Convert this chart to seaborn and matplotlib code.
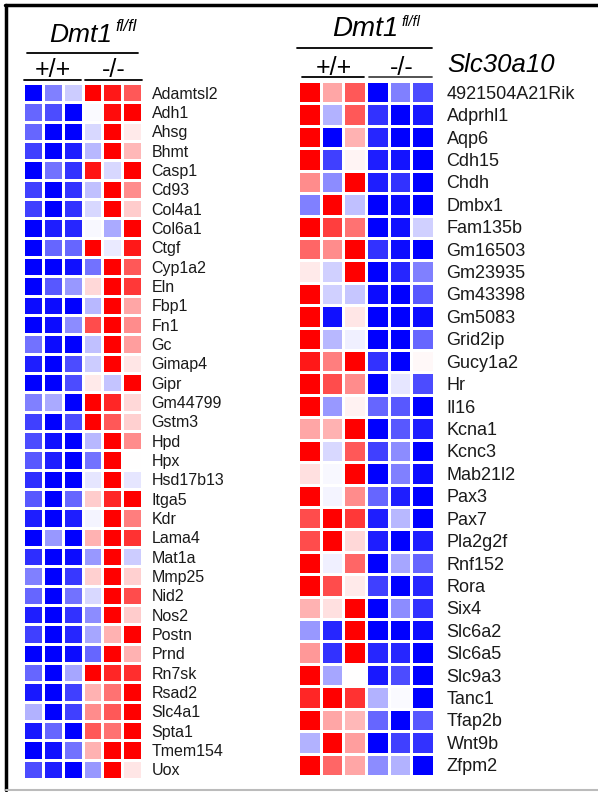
import numpy as np
import pandas as pd
import matplotlib
matplotlib.use('Agg')
import matplotlib.pyplot as plt
import seaborn as sns

# genotype columns (3 replicates each)
samples = ['+/+ 1', '+/+ 2', '+/+ 3', '-/- 1', '-/- 2', '-/- 3']

left_genes = ['Adamtsl2', 'Adh1', 'Ahsg', 'Bhmt', 'Casp1', 'Cd93', 'Col4a1', 'Col6a1',
              'Ctgf', 'Cyp1a2', 'Eln', 'Fbp1', 'Fn1', 'Gc', 'Gimap4', 'Gipr', 'Gm44799',
              'Gstm3', 'Hpd', 'Hpx', 'Hsd17b13', 'Itga5', 'Kdr', 'Lama4', 'Mat1a', 'Mmp25',
              'Nid2', 'Nos2', 'Postn', 'Prnd', 'Rn7sk', 'Rsad2', 'Slc4a1', 'Spta1',
              'Tmem154', 'Uox']
left_values = [
    [-1.00, -0.50, -0.20, 1.00, 0.90, 0.65],
    [-0.60, -0.70, -1.00, -0.02, 0.95, 1.00],
    [-0.60, -1.00, -1.00, -0.15, 1.00, 0.08],
    [-0.75, -1.00, -0.88, -0.28, 1.00, 0.28],
    [-1.00, -0.55, -0.80, 0.92, -0.15, 1.00],
    [-0.75, -1.00, -0.80, -0.25, 1.00, 0.45],
    [-0.75, -1.00, -0.80, -0.15, 1.00, 0.20],
    [-1.00, -0.88, -0.85, -0.03, -0.33, 1.00],
    [-1.00, -0.60, -0.60, 1.00, -0.08, 0.90],
    [-1.00, -1.00, -0.93, -0.55, 1.00, 0.65],
    [-1.00, -0.65, -0.40, 0.15, 1.00, 0.78],
    [-0.95, -0.95, -1.00, -0.28, 1.00, 0.35],
    [-1.00, -0.95, -0.45, 0.70, 1.00, 0.45],
    [-0.55, -0.95, -1.00, -0.25, 1.00, 0.38],
    [-0.88, -1.00, -0.70, -0.20, 1.00, 0.10],
    [-1.00, -1.00, -0.70, 0.08, -0.23, 1.00],
    [-0.50, -0.33, -1.00, 1.00, 0.85, 0.15],
    [-0.75, -1.00, -0.70, 1.00, 0.65, 0.18],
    [-0.70, -0.93, -1.00, -0.28, 1.00, 0.45],
    [-0.65, -0.88, -1.00, -0.55, 1.00, 0.00],
    [-0.82, -1.00, -1.00, -0.10, 1.00, -0.10],
    [-0.65, -1.00, -0.60, 0.20, 0.85, 1.00],
    [-0.88, -1.00, -0.88, -0.04, 1.00, 0.50],
    [-1.00, -0.40, -1.00, 0.30, 1.00, 0.80],
    [-0.82, -1.00, -0.95, -0.40, 1.00, -0.20],
    [-0.50, -1.00, -0.78, 0.18, 1.00, 0.18],
    [-0.60, -1.00, -0.55, -0.15, 1.00, 0.70],
    [-0.88, -1.00, -0.80, -0.45, 1.00, 0.20],
    [-0.75, -1.00, -0.85, -0.35, 0.30, 1.00],
    [-1.00, -1.00, -0.95, -0.60, 1.00, 0.30],
    [-0.60, -1.00, -0.35, 1.00, 0.85, 0.82],
    [-0.90, -1.00, -0.75, 0.30, 0.55, 1.00],
    [-0.30, -1.00, -0.75, 0.45, 0.65, 1.00],
    [-0.90, -0.60, -1.00, 0.65, 0.55, 1.00],
    [-1.00, -0.93, -0.55, 0.30, 1.00, 1.00],
    [-0.70, -0.88, -1.00, -0.40, 1.00, 0.10],
]

right_genes = ['4921504A21Rik', 'Adprhl1', 'Aqp6', 'Cdh15', 'Chdh', 'Dmbx1', 'Fam135b',
               'Gm16503', 'Gm23935', 'Gm43398', 'Gm5083', 'Grid2ip', 'Gucy1a2', 'Hr',
               'Il16', 'Kcna1', 'Kcnc3', 'Mab21l2', 'Pax3', 'Pax7', 'Pla2g2f', 'Rnf152',
               'Rora', 'Six4', 'Slc6a2', 'Slc6a5', 'Slc9a3', 'Tanc1', 'Tfap2b', 'Wnt9b',
               'Zfpm2']
right_values = [
    [1.00, 0.35, 0.65, -1.00, -0.50, -0.70],
    [1.00, -0.30, 0.65, -0.80, -1.00, -0.90],
    [1.00, -1.00, 0.30, -0.85, -1.00, -1.00],
    [1.00, -0.75, 0.04, -0.88, -0.92, -1.00],
    [0.45, -0.45, 1.00, -0.88, -0.80, -1.00],
    [-0.50, 1.00, -0.25, -1.00, -0.95, -1.00],
    [1.00, 0.75, 0.55, -1.00, -0.93, -0.18],
    [0.60, 0.45, 1.00, -0.80, -0.95, -1.00],
    [0.08, -0.18, 1.00, -1.00, -0.85, -0.50],
    [1.00, -0.18, -0.22, -0.95, -1.00, -0.65],
    [1.00, -0.93, 0.10, -1.00, -1.00, -0.95],
    [1.00, -0.28, -0.06, -1.00, -1.00, -0.60],
    [0.90, 0.50, 1.00, -0.80, -1.00, 0.03],
    [1.00, 0.70, 0.45, -1.00, -0.10, -0.70],
    [1.00, -0.40, 0.05, -0.60, -0.65, -1.00],
    [0.35, 0.30, 1.00, -1.00, -0.65, -0.88],
    [1.00, -0.15, 0.65, -0.75, -0.45, -1.00],
    [0.12, -0.03, 1.00, -1.00, -0.50, -0.95],
    [1.00, -0.04, 0.45, -0.60, -0.88, -1.00],
    [0.70, 1.00, 0.78, -0.88, -0.28, -1.00],
    [0.70, 1.00, 0.15, -0.88, -1.00, -0.88],
    [1.00, -0.06, 0.60, -1.00, -0.35, -0.60],
    [1.00, 0.70, 0.08, -0.75, -1.00, -0.85],
    [0.30, 0.12, 1.00, -1.00, -0.45, -0.80],
    [-0.40, -0.85, 1.00, -1.00, -1.00, -0.95],
    [0.40, -0.80, 1.00, -0.85, -0.85, -1.00],
    [1.00, -0.35, 0.00, -0.90, -0.70, -1.00],
    [0.85, 1.00, 0.80, -0.30, -0.02, -1.00],
    [1.00, 0.35, 0.28, -0.60, -1.00, -0.65],
    [-0.30, 1.00, 0.38, -1.00, -0.75, -0.80],
    [1.00, 0.60, 0.35, -0.45, -0.30, -1.00],
]

W, H = 598, 792
sns.set_theme(style='white')
plt.rcParams['font.family'] = ['Liberation Sans', 'DejaVu Sans']
TXT = '#1a1a1a'

fig = plt.figure(figsize=(W / 100, H / 100), dpi=100)


def px_axes(x0, y0, x1, y1):
    # axes placed with pixel coords (top-left origin)
    return fig.add_axes([x0 / W, 1 - y1 / H, (x1 - x0) / W, (y1 - y0) / H])


def fx(x):
    return x / W


def fy(y):
    return 1 - y / H


def draw_heat(ax, genes, values, fsize, pad):
    df = pd.DataFrame(values, index=genes, columns=samples)
    sns.heatmap(df, cmap='bwr', vmin=-1, vmax=1, cbar=False, linewidths=2,
                linecolor='white', ax=ax, xticklabels=False, yticklabels=True)
    ax.yaxis.tick_right()
    ax.tick_params(axis='y', length=0, pad=pad, labelsize=fsize, labelcolor=TXT,
                   rotation=0)
    for t in ax.get_yticklabels():
        t.set_horizontalalignment('left')
    ax.set_xlabel('')
    ax.set_ylabel('')


# left panel
axl = px_axes(23, 83, 142, 779)
draw_heat(axl, left_genes, left_values, 11.5, 7)

# right panel
axr = px_axes(298, 81, 434, 776)
draw_heat(axr, right_genes, right_values, 13, 9)

# headers - left
fig.text(fx(49), fy(42), 'Dmt1', fontsize=19, style='italic', color='black',
         ha='left', va='baseline')
fig.text(fx(115), fy(31), 'fl/fl', fontsize=12, style='italic', color='black',
         ha='left', va='baseline')
fig.text(fx(53), fy(77), '+/+', fontsize=18, color='black', ha='center', va='baseline')
fig.text(fx(114), fy(77), '-/-', fontsize=18, color='black', ha='center', va='baseline')

# headers - right
fig.text(fx(332), fy(36), 'Dmt1', fontsize=20, style='italic', color='black',
         ha='left', va='baseline')
fig.text(fx(401), fy(26), 'fl/fl', fontsize=10.5, style='italic', color='black',
         ha='left', va='baseline')
fig.text(fx(334), fy(75), '+/+', fontsize=18, color='black', ha='center', va='baseline')
fig.text(fx(402), fy(75), '-/-', fontsize=18, color='black', ha='center', va='baseline')
fig.text(fx(447), fy(72), 'Slc30a10', fontsize=18.5, style='italic', color='black',
         ha='left', va='baseline')


def hline(x0, x1, y, color='black', lw=1.3):
    fig.add_artist(plt.Line2D([fx(x0), fx(x1)], [fy(y), fy(y)], color=color, lw=lw))


def vline(x, y0, y1, color='black', lw=1.3):
    fig.add_artist(plt.Line2D([fx(x), fx(x)], [fy(y0), fy(y1)], color=color, lw=lw))


hline(27, 138, 53)
hline(24, 81, 80)
hline(85, 142, 80)
hline(297, 432, 48)
hline(302, 364, 77)
hline(369, 432, 77, color='#444444')

# outer frame
hline(5, 598, 5, lw=2.5)
vline(6, 5, 790, lw=2.5)
hline(6, 598, 790, color='#bbbbbb', lw=1.5)

fig.savefig('out.png', dpi=100)
